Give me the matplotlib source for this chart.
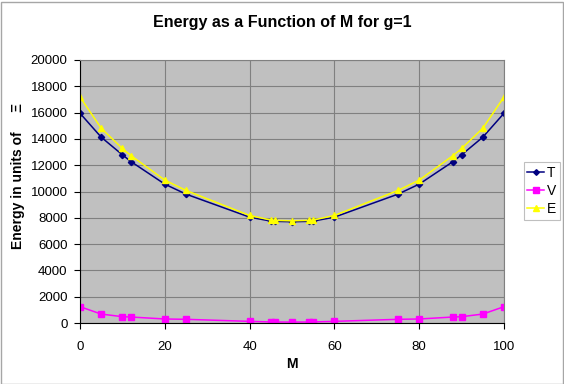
import matplotlib as mpl
import matplotlib.pyplot as plt
from matplotlib.patches import Rectangle

mpl.rcParams['font.family'] = ['Liberation Sans', 'DejaVu Sans']

# data
M = [0, 5, 10, 12, 20, 25, 40, 45, 46, 50, 54, 55, 60, 75, 80, 88, 90, 95, 100]
T = [15950, 14130, 12790, 12280, 10560, 9800, 8050, 7750, 7730, 7700,
     7730, 7750, 8050, 9800, 10560, 12280, 12790, 14130, 15950]
V = [1240, 680, 480, 455, 305, 280, 125, 80, 75, 70,
     75, 80, 125, 280, 305, 455, 480, 680, 1240]
E = [t + v for t, v in zip(T, V)]

W, H = 564, 384
fig = plt.figure(figsize=(W / 100, H / 100), dpi=100)
fig.patch.set_facecolor('white')
fig.patches.append(Rectangle((0.5 / W, 0.5 / H), 1 - 2 / W, 1 - 2 / H,
                             transform=fig.transFigure, fill=False,
                             edgecolor='#a6a6a6', linewidth=1))

ax = fig.add_axes([80 / W, 1 - 323 / H, 424 / W, 263 / H])
ax.set_facecolor('#c0c0c0')
ax.grid(True, color='#808080', linewidth=0.8)
ax.set_axisbelow(True)

ax.plot(M, T, color='#000080', linewidth=1.1, marker='D', markersize=3.2, label='T')
ax.plot(M, V, color='#ff00ff', linewidth=1.1, marker='s', markersize=4.5, label='V')
ax.plot(M, E, color='#ffff00', linewidth=1.1, marker='^', markersize=4.5, label='E')

ax.set_xlim(0, 100)
ax.set_ylim(0, 20000)
ax.set_xticks(range(0, 101, 20))
ax.set_yticks(range(0, 20001, 2000))
ax.tick_params(labelsize=9.5, length=4, color='#000000', pad=5)
ax.tick_params(axis='x', pad=9)
for s in ax.spines.values():
    s.set_color('#808080')
ax.spines['left'].set_color('#000000')
ax.spines['bottom'].set_color('#000000')

fig.text(282 / W, 1 - 22 / H, 'Energy as a Function of M for g=1',
         ha='center', va='center', fontsize=11.5, fontweight='bold')
fig.text(292 / W, 1 - 364 / H, 'M', ha='center', va='center',
         fontsize=10, fontweight='bold')
fig.text(18 / W, 1 - 176 / H, 'Energy in units of     Ξ', ha='center', va='center',
         rotation=90, fontsize=10, fontweight='bold')

leg = ax.legend(loc='center left', bbox_to_anchor=(524 / W, 1 - 191 / H),
                bbox_transform=fig.transFigure, fontsize=10, frameon=True,
                fancybox=False, edgecolor='#b0b0b0', handlelength=1.2,
                handletextpad=0.2, borderpad=0.25, labelspacing=0.3,
                borderaxespad=0, markerscale=0.9)
leg.get_frame().set_linewidth(0.8)

fig.savefig('out.png', dpi=100)
